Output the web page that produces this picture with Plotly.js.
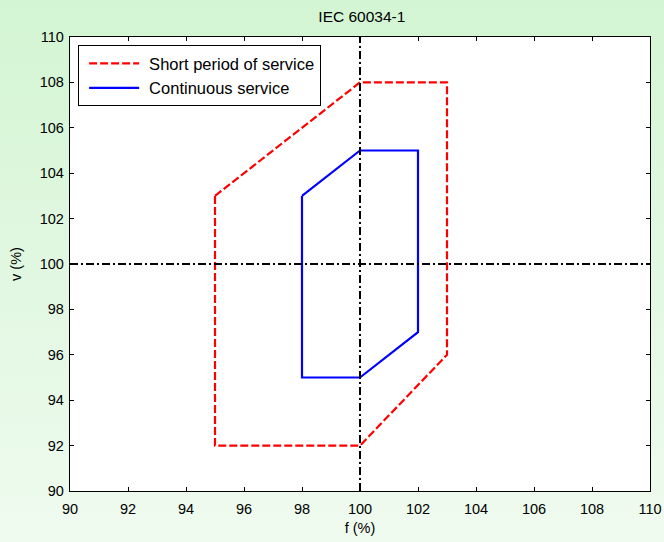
<!DOCTYPE html>
<html><head><meta charset="utf-8">
<script src="https://cdn.plot.ly/plotly-3.0.1.min.js"></script>
<style>
html,body{margin:0;padding:0;}
body{width:664px;height:542px;background:linear-gradient(to bottom,#d3f5d3 0%,#e4f8e4 60%,#effbef 100%);}
#plot{width:664px;height:542px;}
</style></head>
<body><div id="plot"></div>
<script>
const shortX = [95, 100, 103, 103, 100, 95, 95];
const shortY = [103, 108, 108, 96, 92, 92, 103];
const contX = [98, 100, 102, 102, 100, 98, 98];
const contY = [103, 105, 105, 97, 95, 95, 103];
const vRefX = [100, 100];
const vRefY = [90, 110];
const hRefX = [90, 110];
const hRefY = [100, 100];
const tickVals = [90, 92, 94, 96, 98, 100, 102, 104, 106, 108, 110];

const font = {family: '"Liberation Sans", Arial, sans-serif', color: '#000', size: 14};
const data = [
  {x: shortX, y: shortY, mode: 'lines', name: 'Short period of service',
   line: {color: '#ff0000', width: 2.2, dash: '8px,3px'}},
  {x: contX, y: contY, mode: 'lines', name: 'Continuous service',
   line: {color: '#0000ff', width: 2.2}},
  {x: vRefX, y: vRefY, mode: 'lines', showlegend: false,
   line: {color: '#000', width: 2, dash: '8px,3px,2px,3px'}},
  {x: hRefX, y: hRefY, mode: 'lines', showlegend: false,
   line: {color: '#000', width: 2, dash: '8px,3px,2px,3px'}}
];
const axisCommon = {
  tickvals: tickVals, ticks: 'inside', ticklen: 4, tickcolor: '#000',
  showline: true, linecolor: '#000', linewidth: 1.2, mirror: 'ticks',
  showgrid: false, zeroline: false, tickfont: {size: 14.5}
};
const layout = {
  width: 664, height: 542,
  margin: {l: 70, r: 14, t: 37, b: 51},
  paper_bgcolor: 'rgba(0,0,0,0)', plot_bgcolor: '#fff',
  font: font,
  title: {text: 'IEC 60034-1', x: 0.545, xanchor: 'center', y: 0.97, yanchor: 'middle', font: {size: 15.5}},
  xaxis: Object.assign({}, axisCommon, {range: [90, 110], ticklabelstandoff: 4,
         title: {text: 'f (%)', standoff: 7, font: {size: 14.5}}}),
  yaxis: Object.assign({}, axisCommon, {range: [90, 110], ticklabelstandoff: 2,
         title: {text: 'v (%)', standoff: 14, font: {size: 14.5}}}),
  showlegend: true,
  legend: {x: 0.014, y: 0.982, xanchor: 'left', yanchor: 'top', bgcolor: '#fff',
           bordercolor: '#000', borderwidth: 1, font: {size: 16.5}, tracegroupgap: 0, itemwidth: 60}
};
Plotly.newPlot('plot', data, layout, {displayModeBar: false, staticPlot: true}).then(function () {
  document.querySelectorAll('.legend .legendlines path').forEach(function (p) {
    p.setAttribute('d', 'M10,0h50');
  });
});
</script></body></html>
